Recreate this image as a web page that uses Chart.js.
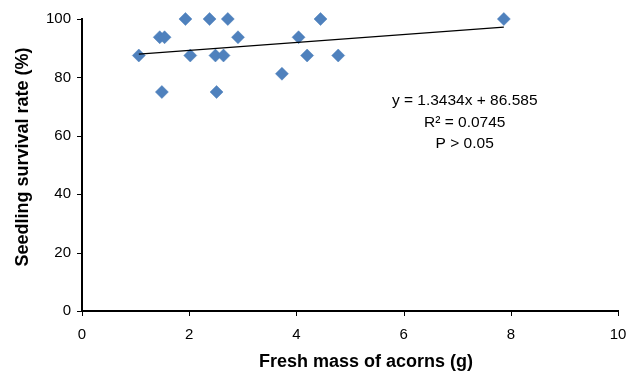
<!DOCTYPE html>
<html>
<head>
<meta charset="utf-8">
<script src="https://cdn.jsdelivr.net/npm/chart.js@4"></script>
<style>
  html, body { margin: 0; padding: 0; background: #fff; }
  #wrap { width: 628px; height: 376px; }
</style>
</head>
<body>
<div id="wrap"><canvas id="c" width="628" height="376"></canvas></div>
<script>
// Fresh mass of acorns (g)
const massX = [1.06, 1.45, 1.49, 1.54, 1.93, 2.02, 2.38, 2.49, 2.51, 2.64, 2.72, 2.91, 3.73, 4.04, 4.20, 4.45, 4.78, 7.87];
// Seedling survival rate (%)
const survivalY = [87.5, 93.75, 75, 93.75, 100, 87.5, 100, 87.5, 75, 87.5, 100, 93.75, 81.25, 93.75, 87.5, 100, 87.5, 100];
// Trendline end points (as drawn)
const trendX = [1.06, 7.87];
const trendY = [88.0, 97.2];
// Axis ticks
const xTicks = [0, 2, 4, 6, 8, 10];
const yTicks = [0, 20, 40, 60, 80, 100];
// Titles and annotation text
const xTitle = 'Fresh mass of acorns (g)';
const yTitle = 'Seedling survival rate (%)';
const annoLines = ['y = 1.3434x + 86.585', 'R\u00B2 = 0.0745', 'P > 0.05'];
const annoPos = [7.14, 72];

const FONT = "'Liberation Sans', Arial, sans-serif";

const annoPlugin = {
  id: 'anno',
  afterDraw(chart) {
    const ctx = chart.ctx;
    const xs = chart.scales.x, ys = chart.scales.y;
    const a = chart.chartArea;
    ctx.save();
    // tick marks (outside)
    ctx.strokeStyle = '#000';
    ctx.lineWidth = 1;
    ctx.beginPath();
    xTicks.forEach(v => {
      const p = Math.round(xs.getPixelForValue(v)) + 0.5;
      ctx.moveTo(p, a.bottom); ctx.lineTo(p, a.bottom + 5);
    });
    yTicks.forEach(v => {
      const p = Math.round(ys.getPixelForValue(v)) + 0.5;
      ctx.moveTo(a.left - 5, p); ctx.lineTo(a.left, p);
    });
    ctx.stroke();
    // axis titles
    ctx.fillStyle = '#000';
    ctx.font = 'bold 18px ' + FONT;
    ctx.textAlign = 'center';
    ctx.textBaseline = 'middle';
    ctx.fillText(xTitle, 366, 362);
    ctx.save();
    ctx.translate(23, 157);
    ctx.rotate(-Math.PI / 2);
    ctx.fillText(yTitle, 0, 0);
    ctx.restore();
    // annotation
    const px = xs.getPixelForValue(annoPos[0]);
    const py = ys.getPixelForValue(annoPos[1]);
    ctx.font = '15.5px ' + FONT;
    annoLines.forEach((t, i) => ctx.fillText(t, px, py + i * 21.5));
    ctx.restore();
  }
};

new Chart(document.getElementById('c'), {
  type: 'scatter',
  data: {
    datasets: [
      {
        label: 'trend',
        data: trendX.map((x, i) => ({ x, y: trendY[i] })),
        showLine: true,
        borderColor: '#000',
        borderWidth: 1.3,
        pointRadius: 0,
        fill: false,
        clip: false
      },
      {
        label: 'survival',
        data: massX.map((x, i) => ({ x, y: survivalY[i] })),
        pointStyle: 'rectRot',
        pointRadius: 6.5,
        pointBackgroundColor: '#4F81BD',
        pointBorderColor: '#4A7EBB',
        pointBorderWidth: 0.5,
        clip: false
      }
    ]
  },
  options: {
    responsive: false,
    animation: false,
    devicePixelRatio: 1,
    layout: { padding: { top: 19, right: 10, left: 0, bottom: 0 } },
    plugins: { legend: { display: false }, tooltip: { enabled: false } },
    scales: {
      x: {
        type: 'linear',
        min: 0, max: 10,
        afterBuildTicks(s) { s.ticks = xTicks.map(v => ({ value: v })); },
        afterFit(s) { s.height = 65; },
        border: { color: '#000', width: 2 },
        grid: { drawOnChartArea: false, drawTicks: true, tickLength: 14, tickColor: 'rgba(0,0,0,0)' },
        ticks: { color: '#000', font: { family: FONT, size: 15 }, padding: 1, maxRotation: 0 },
        title: { display: false }
      },
      y: {
        type: 'linear',
        min: 0, max: 100,
        afterBuildTicks(s) { s.ticks = yTicks.map(v => ({ value: v })); },
        afterFit(s) { s.width = 82; },
        border: { color: '#000', width: 2 },
        grid: { drawOnChartArea: false, drawTicks: true, tickLength: 10, tickColor: 'rgba(0,0,0,0)' },
        ticks: { color: '#000', font: { family: FONT, size: 15 }, padding: 1 },
        title: { display: false }
      }
    }
  },
  plugins: [annoPlugin]
});
</script>
</body>
</html>
